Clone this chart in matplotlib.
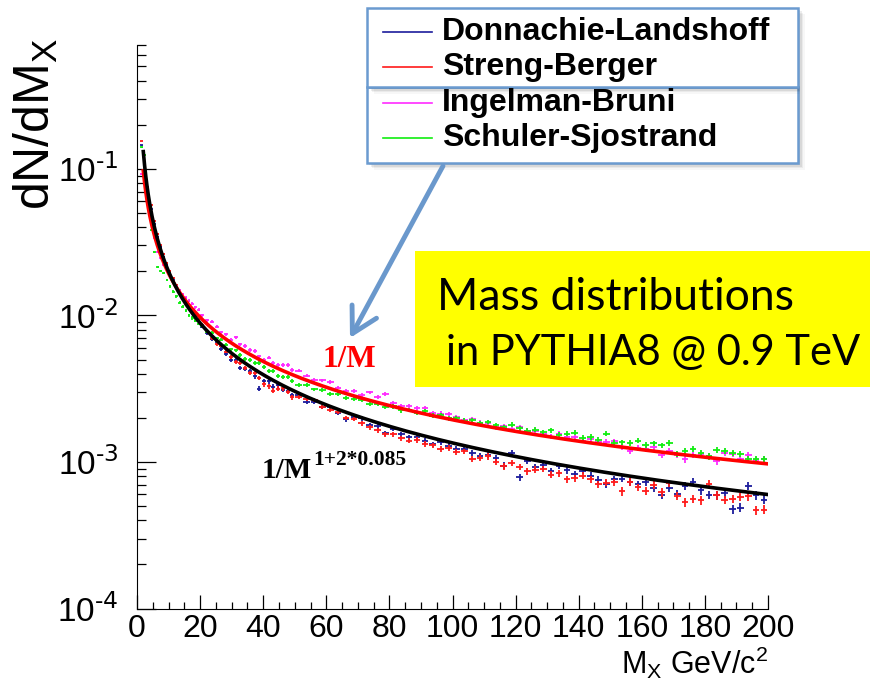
import numpy as np
import matplotlib.pyplot as plt
from matplotlib.patches import Rectangle, FancyArrowPatch
from matplotlib.lines import Line2D
from matplotlib.ticker import LogLocator, MultipleLocator, NullFormatter, FuncFormatter

plt.rcParams['font.family'] = ['Liberation Sans', 'DejaVu Sans']

# variable binning: 1 GeV up to 20, 1.5 GeV up to 50, 2.5 GeV up to 200
edges = np.concatenate([np.arange(1, 20, 1.0), np.arange(20, 50, 1.5),
                        np.arange(50, 200.1, 2.5)])
centers = 0.5 * (edges[1:] + edges[:-1])
widths = np.diff(edges)

# dN/dM_X per bin, in units of 1e-3
donnachie = np.array([
    145, 110, 72, 53, 42, 34.5, 29.2, 25.2, 22.0, 19.7, 17.4, 15.8, 14.4, 13.1, 12.1, 11.2, 10.4, 9.7, 9.1,
    8.38, 7.56, 6.85, 6.59, 5.90, 5.42, 4.98, 4.98, 4.40, 4.32, 4.20, 3.83, 3.16, 3.58, 3.54, 3.26, 3.33, 3.11, 3.06, 2.86,
    2.85, 2.56, 2.58, 2.36, 2.36, 2.16, 1.95, 2.02, 1.98, 1.78,
    1.75, 1.57, 1.68, 1.55, 1.47, 1.49, 1.39, 1.32, 1.36, 1.28,
    1.22, 1.22, 1.16, 1.10, 1.11, 1.06, 0.943, 1.16, 0.785, 1.02,
    0.926, 0.959, 0.868, 0.937, 0.879, 0.823, 0.869, 0.807, 0.756, 0.707,
    0.761, 0.771, 0.732, 0.702, 0.729, 0.662, 0.597, 0.669, 0.607, 0.689,
    0.735, 0.639, 0.595, 0.592, 0.610, 0.476, 0.488, 0.690, 0.592, 0.553]) * 1e-3

streng = np.array([
    155, 124, 75, 57, 44, 36, 30.0, 26.2, 22.8, 20.0, 18.0, 16.0, 14.7, 13.3, 12.3, 11.4, 10.6, 9.9, 9.3,
    8.64, 7.72, 7.00, 6.38, 6.22, 5.66, 5.21, 4.82, 4.76, 4.37, 4.02, 4.05, 3.74, 3.38, 3.28, 3.07, 3.16, 3.18, 3.00, 2.76,
    2.76, 2.70, 2.64, 2.38, 2.26, 2.20, 2.00, 1.96, 1.84, 1.72,
    1.64, 1.54, 1.54, 1.45, 1.40, 1.41, 1.33, 1.30, 1.22, 1.25,
    1.17, 1.18, 1.05, 1.07, 1.09, 1.00, 0.932, 0.986, 0.927, 0.867,
    0.884, 0.898, 0.818, 0.839, 0.764, 0.776, 0.805, 0.762, 0.703, 0.724,
    0.727, 0.630, 0.732, 0.670, 0.635, 0.701, 0.620, 0.713, 0.585, 0.531,
    0.559, 0.549, 0.705, 0.592, 0.550, 0.561, 0.578, 0.582, 0.467, 0.473]) * 1e-3

ingelman = np.array([
    92, 83, 60, 45, 34, 27, 24.5, 22.0, 20.0, 18.3, 16.8, 15.8, 14.8, 14.0, 13.2, 12.6, 12.0, 11.4, 10.9,
    10.0, 9.25, 9.08, 8.38, 7.70, 7.43, 6.79, 7.09, 6.34, 6.18, 5.81, 5.73, 5.26, 4.97, 5.16, 4.76, 4.56, 4.58, 4.59, 4.22,
    4.20, 3.87, 3.62, 3.61, 3.52, 3.22, 3.05, 3.05, 2.86, 2.98,
    2.78, 2.91, 2.51, 2.39, 2.41, 2.32, 2.32, 2.15, 2.14, 2.12,
    2.02, 1.93, 1.95, 1.85, 1.85, 1.72, 1.76, 1.68, 1.72, 1.63,
    1.63, 1.55, 1.49, 1.56, 1.48, 1.47, 1.40, 1.43, 1.37, 1.37,
    1.38, 1.27, 1.19, 1.25, 1.22, 1.26, 1.11, 1.19, 1.12, 1.04,
    1.11, 1.14, 1.10, 1.01, 1.16, 1.14, 1.05, 1.11, 1.03, 1.04]) * 1e-3

schuler = np.array([
    140, 125, 68, 38, 27, 21.5, 20.0, 19.5, 17.5, 15.8, 14.5, 13.5, 12.2, 11.5, 10.8, 10.0, 9.6, 9.2, 8.8,
    8.51, 7.75, 7.59, 6.98, 6.82, 6.32, 5.87, 5.77, 5.38, 5.03, 4.99, 4.73, 4.71, 4.43, 4.17, 4.17, 3.85, 3.82, 3.81, 3.58,
    3.36, 3.36, 3.13, 3.11, 2.91, 2.92, 2.72, 2.68, 2.64, 2.47,
    2.49, 2.37, 2.39, 2.25, 2.27, 2.17, 2.21, 2.07, 2.08, 1.98,
    2.00, 1.91, 1.93, 1.84, 1.87, 1.79, 1.72, 1.80, 1.70, 1.63,
    1.66, 1.60, 1.64, 1.53, 1.56, 1.58, 1.46, 1.48, 1.42, 1.56,
    1.35, 1.36, 1.35, 1.40, 1.31, 1.34, 1.30, 1.35, 1.14, 1.19,
    1.22, 1.16, 1.09, 1.20, 1.19, 1.15, 1.14, 1.05, 1.05, 1.05]) * 1e-3

labels = ['Donnachie-Landshoff', 'Streng-Berger', 'Ingelman-Bruni', 'Schuler-Sjostrand']
colors = ['#1c1c9c', '#ff1a1a', '#ff2bff', '#11ee11']
series = [donnachie, streng, ingelman, schuler]

# fitted shapes: 1/M and 1/M^(1+2*eps)
eps = 0.085
norm_flat = 0.194
norm_pom = 0.295


def fx(px):
    return px / 872


def fy(py):
    return 1 - py / 681


def decade_label(v, pos):
    e = int(round(np.log10(v)))
    return r'$\mathdefault{10^{\text{-%d}}}$' % abs(e) if e < 0 else r'$\mathdefault{10^{%d}}$' % e


fig = plt.figure(figsize=(8.72, 6.81), dpi=100)
ax = fig.add_axes([fx(137), fy(608.5), (768 - 137) / 872, (608.5 - 45) / 681])

for y, c in zip(series, colors):
    # counting error per bin
    rel = 0.065 * np.sqrt(0.0015 / (y * widths))
    ax.errorbar(centers, y, xerr=0.42 * widths, yerr=y * rel, fmt='none',
                ecolor=c, elinewidth=1.3, capsize=0)

m = np.linspace(2, 200, 500)
ax.plot(m, norm_flat / m, color='#ff0000', lw=2.6)
ax.plot(m, norm_pom / m ** (1 + 2 * eps), color='black', lw=2.6)

ax.set_yscale('log')
ax.set_xlim(0, 200)
ax.set_ylim(1e-4, 0.7)
for s in ['top', 'right']:
    ax.spines[s].set_visible(False)
ax.xaxis.set_major_locator(MultipleLocator(20))
ax.xaxis.set_minor_locator(MultipleLocator(5))
ax.yaxis.set_major_formatter(FuncFormatter(decade_label))
ax.yaxis.set_minor_locator(LogLocator(subs=np.arange(2, 10)))
ax.yaxis.set_minor_formatter(NullFormatter())
ax.tick_params(axis='y', which='major', direction='in', length=13.5, width=0.9,
               labelsize=24, pad=13)
ax.tick_params(axis='y', which='minor', direction='in', length=6.5, width=0.9)
ax.tick_params(axis='x', which='major', direction='in', length=10, width=0.9,
               labelsize=23, pad=4)
ax.tick_params(axis='x', which='minor', direction='in', length=5, width=0.9)
xt = np.arange(0, 201, 20)
ax.set_xticks(xt, [str(v) for v in xt],
              fontfamily=['Liberation Sans Narrow', 'Liberation Sans'])

fig.text(fx(768), fy(674), r'M$_{\mathregular{X}}$ GeV/c$^{\mathregular{2}}$',
         ha='right', va='baseline', fontsize=22,
         fontfamily=['Liberation Sans Narrow', 'Liberation Sans'])
fig.text(fx(36), fy(38), r'dN/dM$_{\mathregular{X}}$', rotation=90,
         ha='center', va='top', fontsize=36)

# legend: two stacked boxes with drop shadows
box_color = '#6b9bd0'


def shadow_box(x0, y0, x1, y1):
    for k, a in enumerate([0.10, 0.07, 0.05, 0.03]):
        off = 2 + k * 1.5
        fig.add_artist(Rectangle((fx(x0 + off), fy(y1 + off)), (x1 - x0) / 872,
                                 (y1 - y0) / 681, transform=fig.transFigure,
                                 facecolor='black', edgecolor='none', alpha=a))
    fig.add_artist(Rectangle((fx(x0), fy(y1)), (x1 - x0) / 872, (y1 - y0) / 681,
                             transform=fig.transFigure, facecolor='white',
                             edgecolor=box_color, lw=1.8))


shadow_box(367, 87, 798, 163)
shadow_box(367, 8, 798, 87)

for i, (lab, c) in enumerate(zip(labels, colors)):
    yrow = 32 + 35.4 * i
    fig.add_artist(Line2D([fx(383), fx(432)], [fy(yrow), fy(yrow)], color=c, lw=1.2))
    fig.text(fx(442), fy(yrow), lab, ha='left', va='center', fontsize=23,
             fontweight='bold')

# arrow from the legend to the 1/M curve
fig.add_artist(FancyArrowPatch((fx(443), fy(166)), (fx(350), fy(338)),
                               transform=fig.transFigure,
                               arrowstyle='->,head_length=0.9,head_width=0.5',
                               mutation_scale=20, lw=3.5, color='#6a98cc',
                               shrinkA=0, shrinkB=0))

# yellow note
fig.add_artist(Rectangle((fx(415), fy(387)), (870 - 415) / 872, (387 - 251) / 681,
                         transform=fig.transFigure, facecolor='#ffff00',
                         edgecolor='none'))
fig.text(fx(437), fy(310), 'Mass distributions', ha='left', va='baseline',
         fontsize=32, fontfamily='Lato')
fig.text(fx(446), fy(365), 'in PYTHIA8 @ 0.9 TeV', ha='left', va='baseline',
         fontsize=30, fontfamily='Lato')

# curve labels
fig.text(fx(322), fy(367), '1/M', color='#ff0000', ha='left', va='baseline',
         fontsize=22.5, fontweight='bold', fontfamily='Liberation Serif')
fig.text(fx(262), fy(478), '1/M', color='black', ha='left', va='baseline',
         fontsize=21, fontweight='bold', fontfamily='Liberation Serif')
fig.text(fx(313), fy(465), '1+2*0.085', color='black', ha='left', va='baseline',
         fontsize=15.5, fontweight='bold', fontfamily='Liberation Serif')

fig.savefig('out.png', dpi=100)
